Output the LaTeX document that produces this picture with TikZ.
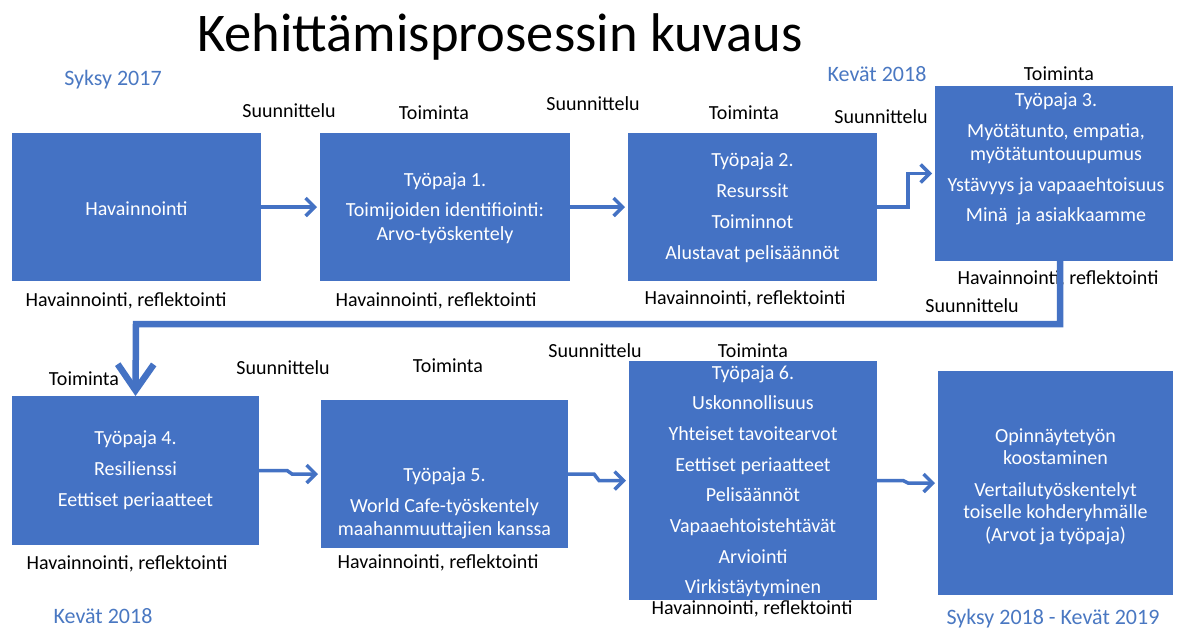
\documentclass[tikz,border=0pt]{standalone}
\usepackage{fontspec}
\setmainfont{Carlito}
\usetikzlibrary{arrows.meta}
\definecolor{boxblue}{HTML}{4472C4}
\definecolor{seasonblue}{HTML}{4A78C2}
\begin{document}
\begin{tikzpicture}[x=1pt,y=-1pt,
  wbox/.style={fill=boxblue,draw=none,inner sep=0pt,outer sep=0pt},
  bt/.style={text=white,anchor=base,inner sep=0pt,font=\fontsize{20}{24}\selectfont},
  lbl/.style={text=black,anchor=base,inner sep=0pt,font=\fontsize{20}{24}\selectfont},
  season/.style={text=seasonblue,anchor=base,inner sep=0pt,font=\fontsize{22}{26}\selectfont},
  arr/.style={draw=boxblue,line width=3.5pt,-{Straight Barb[length=9pt,width=18pt]},shorten >=3pt},
  bigarr/.style={draw=boxblue,line width=6.5pt,-{Straight Barb[length=26pt,width=36pt]}}]
\useasboundingbox (0,0) rectangle (1184,633);
\fill[white] (0,0) rectangle (1184,633);

% title
\node[anchor=base west,inner sep=0pt,font=\fontsize{54.5}{60}\selectfont] (title) at (197,51) {Kehittämisprosessin kuvaus};

% boxes
\node[wbox,minimum width=249pt,minimum height=148pt] (box1) at (136.5,207) {};
\node[wbox,minimum width=250pt,minimum height=148pt] (box2) at (445,207) {};
\node[wbox,minimum width=249pt,minimum height=148pt] (box3) at (752.5,207) {};
\node[wbox,minimum width=238pt,minimum height=175pt] (box4) at (1054,173.5) {};
\node[wbox,minimum width=247pt,minimum height=149pt] (box5) at (135.5,470.5) {};
\node[wbox,minimum width=247pt,minimum height=148pt] (box6) at (444.5,474) {};
\node[wbox,minimum width=248pt,minimum height=239pt] (box7) at (753,480.5) {};
\node[wbox,minimum width=235pt,minimum height=224pt] (box8) at (1055.5,483) {};

% box texts
\node[bt] (t1a) at (136.5,215) {Havainnointi};

\node[bt] (t2a) at (445,186) {Työpaja 1.};
\node[bt] (t2b) at (445,216) {Toimijoiden identifiointi:};
\node[bt] (t2c) at (445,240) {Arvo-työskentely};

\node[bt] (t3a) at (752.5,166) {Työpaja 2.};
\node[bt] (t3b) at (752.5,197) {Resurssit};
\node[bt] (t3c) at (752.5,228) {Toiminnot};
\node[bt] (t3d) at (752.5,259) {Alustavat pelisäännöt};

\node[bt] (t4a) at (1056,106) {Työpaja 3.};
\node[bt] (t4b) at (1056,137) {Myötätunto, empatia,};
\node[bt] (t4c) at (1056,160) {myötätuntouupumus};
\node[bt] (t4d) at (1056,191) {Ystävyys ja vapaaehtoisuus};
\node[bt] (t4e) at (1056,221) {Minä\ \ ja asiakkaamme};

\node[bt] (t5a) at (135.5,444) {Työpaja 4.};
\node[bt] (t5b) at (135.5,475) {Resilienssi};
\node[bt] (t5c) at (135.5,506) {Eettiset periaatteet};

\node[bt] (t6a) at (444.5,481) {Työpaja 5.};
\node[bt] (t6b) at (444.5,512) {World Cafe-työskentely};
\node[bt] (t6c) at (444.5,535) {maahanmuuttajien kanssa};

\node[bt] (t7a) at (753,379) {Työpaja 6.};
\node[bt] (t7b) at (753,409.7) {Uskonnollisuus};
\node[bt] (t7c) at (753,440.4) {Yhteiset tavoitearvot};
\node[bt] (t7d) at (753,471.1) {Eettiset periaatteet};
\node[bt] (t7e) at (753,501.8) {Pelisäännöt};
\node[bt] (t7f) at (753,532.5) {Vapaaehtoistehtävät};
\node[bt] (t7g) at (753,563.2) {Arviointi};
\node[bt] (t7h) at (753,593.9) {Virkistäytyminen};

\node[bt] (t8a) at (1055.5,442) {Opinnäytetyön};
\node[bt] (t8b) at (1055.5,464) {koostaminen};
\node[bt] (t8c) at (1055.5,496) {Vertailutyöskentelyt};
\node[bt] (t8d) at (1055.5,518) {toiselle kohderyhmälle};
\node[bt] (t8e) at (1055.5,541) {(Arvot ja työpaja)};

% season labels
\node[season] (s1) at (113,85) {Syksy 2017};
\node[season] (s2) at (877,81) {Kevät 2018};
\node[season] (s3) at (103,623) {Kevät 2018};
\node[season] (s4) at (1053,624) {Syksy 2018 - Kevät 2019};

% phase labels
\node[lbl] (p1) at (289,117) {Suunnittelu};
\node[lbl] (p2) at (434,119) {Toiminta};
\node[lbl] (p3) at (593,110) {Suunnittelu};
\node[lbl] (p4) at (744,119) {Toiminta};
\node[lbl] (p5) at (881,123) {Suunnittelu};
\node[lbl] (p6) at (1059,80) {Toiminta};
\node[lbl] (p7) at (972,312) {Suunnittelu};
\node[lbl] (p8) at (84,385) {Toiminta};
\node[lbl] (p9) at (283,374) {Suunnittelu};
\node[lbl] (p10) at (448,372) {Toiminta};
\node[lbl] (p11) at (595,357) {Suunnittelu};
\node[lbl] (p12) at (753,357) {Toiminta};

\node[lbl] (r1) at (126,306) {Havainnointi, reflektointi};
\node[lbl] (r2) at (436,306) {Havainnointi, reflektointi};
\node[lbl] (r3) at (745,304) {Havainnointi, reflektointi};
\node[lbl] (r4) at (1058,284) {Havainnointi, reflektointi};
\node[lbl] (r5) at (127,569) {Havainnointi, reflektointi};
\node[lbl] (r6) at (438,568) {Havainnointi, reflektointi};
\node[lbl] (r7) at (752,614) {Havainnointi, reflektointi};

% bend coordinates
\coordinate (k3) at (908,173.5);
\coordinate (k4a) at (1060,324);
\coordinate (k4b) at (136,324);
\coordinate (k5a) at (287,470.5);
\coordinate (k5b) at (292,474);
\coordinate (k6a) at (594,474);
\coordinate (k6b) at (599,480.5);
\coordinate (k7a) at (903,480.5);
\coordinate (k7b) at (908,483);

% connectors
\draw[arr] (box1.east) -- (box2.west);
\draw[arr] (box2.east) -- (box3.west);
\draw[arr] (box3.east) -| (k3) -- (box4.west);
\draw[bigarr] (box4.south -| k4a) -- (k4a) -- (k4b) -- (box5.north);
\draw[arr] (box5.east) -- (k5a) -- (k5b) -- (box6.west);
\draw[arr] (box6.east) -- (k6a) -- (k6b) -- (box7.west);
\draw[arr] (box7.east) -- (k7a) -- (k7b) -- (box8.west);
\end{tikzpicture}
\end{document}
